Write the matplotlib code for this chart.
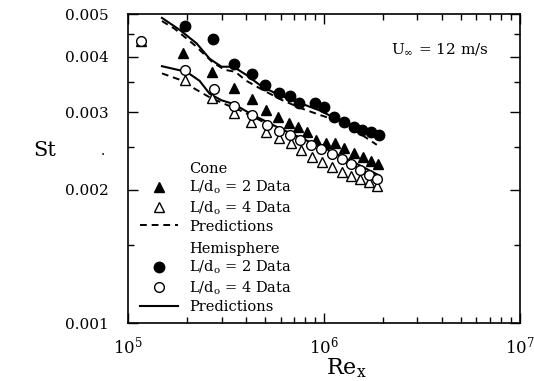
import matplotlib
matplotlib.use('Agg')
import matplotlib.pyplot as plt
from matplotlib.lines import Line2D
import numpy as np

plt.rcParams['font.family'] = 'DejaVu Serif'
plt.rcParams['mathtext.fontset'] = 'dejavuserif'

# Cone, L/do = 2 (filled triangles)
cone2_re = [1.90e5, 2.69e5, 3.49e5, 4.30e5, 5.05e5, 5.86e5, 6.64e5, 7.41e5, 8.23e5,
            9.1e5, 1.02e6, 1.14e6, 1.26e6, 1.42e6, 1.58e6, 1.73e6, 1.88e6]
cone2_st = [0.00409, 0.00369, 0.00340, 0.00321, 0.00304, 0.00292, 0.00284, 0.00278, 0.00271,
            0.00259, 0.00256, 0.00255, 0.00249, 0.00242, 0.00237, 0.00232, 0.00229]

# Cone, L/do = 4 (open triangles)
cone4_re = [1.16e5, 1.96e5, 2.68e5, 3.49e5, 4.25e5, 5.06e5, 5.91e5, 6.78e5, 7.62e5, 8.69e5,
            9.77e5, 1.10e6, 1.23e6, 1.37e6, 1.52e6, 1.69e6, 1.86e6]
cone4_st = [0.00435, 0.00354, 0.00323, 0.00299, 0.00285, 0.00271, 0.00262, 0.00255, 0.00246, 0.00238,
            0.00231, 0.00225, 0.00220, 0.00215, 0.00212, 0.00208, 0.00204]

# Hemisphere, L/do = 2 (filled circles)
hemi2_re = [1.95e5, 2.70e5, 3.49e5, 4.31e5, 5.02e5, 5.88e5, 6.70e5, 7.46e5, 9.0e5,
            1.0e6, 1.12e6, 1.26e6, 1.42e6, 1.56e6, 1.73e6, 1.90e6]
hemi2_st = [0.00470, 0.00439, 0.00385, 0.00366, 0.00345, 0.00332, 0.00326, 0.00315, 0.00314,
            0.00308, 0.00293, 0.00285, 0.00278, 0.00273, 0.00270, 0.00266]

# Hemisphere, L/do = 4 (open circles)
hemi4_re = [1.16e5, 1.95e5, 2.74e5, 3.49e5, 4.30e5, 5.11e5, 5.91e5, 6.70e5, 7.55e5, 8.59e5,
            9.66e5, 1.10e6, 1.23e6, 1.37e6, 1.52e6, 1.69e6, 1.86e6]
hemi4_st = [0.00435, 0.00374, 0.00339, 0.00310, 0.00296, 0.00281, 0.00272, 0.00266, 0.00259, 0.00253,
            0.00248, 0.00241, 0.00235, 0.00229, 0.00222, 0.00216, 0.00212]

# predictions
pc2_re = [1.49e5, 1.73e5, 2.19e5, 2.70e5, 3.11e5, 3.53e5, 4.02e5, 4.85e5, 6.05e5, 7.64e5,
          9.44e5, 1.19e6, 1.51e6, 1.86e6]
pc2_st = [0.00482, 0.00463, 0.00425, 0.00389, 0.00374, 0.00370, 0.00353, 0.00337, 0.00320, 0.00306,
          0.00296, 0.00286, 0.00269, 0.00253]
pc4_re = [1.49e5, 1.84e5, 2.21e5, 2.61e5, 3.11e5, 3.71e5, 4.68e5, 5.91e5, 7.91e5, 1.06e6,
          1.42e6, 1.90e6]
pc4_st = [0.00367, 0.00355, 0.00338, 0.00324, 0.00313, 0.00303, 0.00288, 0.00273, 0.00257, 0.00241,
          0.00227, 0.00211]
ph2_re = [1.49e5, 1.84e5, 2.24e5, 2.61e5, 3.00e5, 3.45e5, 4.02e5, 4.85e5, 5.91e5, 7.46e5,
          9.44e5, 1.19e6, 1.51e6, 1.90e6]
ph2_st = [0.00490, 0.00460, 0.00429, 0.00396, 0.00380, 0.00380, 0.00364, 0.00342, 0.00328, 0.00315,
          0.00303, 0.00288, 0.00277, 0.00269]
ph4_re = [1.49e5, 1.99e5, 2.32e5, 2.61e5, 3.00e5, 3.45e5, 4.31e5, 5.91e5, 8.11e5, 1.06e6,
          1.42e6, 1.90e6]
ph4_st = [0.00381, 0.00370, 0.00353, 0.00330, 0.00319, 0.00313, 0.00296, 0.00276, 0.00259, 0.00246,
          0.00231, 0.00216]

yticks = [0.001, 0.002, 0.003, 0.004, 0.005]
ytick_labels = ['0.001', '0.002', '0.003', '0.004', '0.005']
xticks = [1e5, 1e6, 1e7]
xtick_labels = ['$10^5$', '$10^6$', '$10^7$']

fig = plt.figure(figsize=(5.34, 3.81), dpi=100)
ax = fig.add_axes([0.2397, 0.1522, 0.734, 0.811])

dash = (0, (3.5, 2.5))
ax.plot(pc2_re, pc2_st, color='k', lw=1.4, linestyle=dash)
ax.plot(pc4_re, pc4_st, color='k', lw=1.4, linestyle=dash)
ax.plot(ph2_re, ph2_st, color='k', lw=1.5)
ax.plot(ph4_re, ph4_st, color='k', lw=1.5)

ax.plot(cone2_re, cone2_st, '^', color='k', ms=6.5, linestyle='none')
ax.plot(cone4_re, cone4_st, '^', mfc='white', mec='k', mew=1.0, ms=6.5, linestyle='none')
ax.plot(hemi4_re, hemi4_st, 'o', mfc='white', mec='k', mew=1.0, ms=7, linestyle='none')
ax.plot(hemi2_re, hemi2_st, 'o', color='k', ms=7.5, linestyle='none')

ax.set_xscale('log')
ax.set_yscale('log')
ax.set_xlim(1e5, 1e7)
ax.set_ylim(0.001, 0.005)
ax.set_xticks(xticks, xtick_labels)
ax.set_yticks(yticks, ytick_labels)
ax.set_yticks([0.0015, 0.0025, 0.0035, 0.0045], minor=True)
ax.yaxis.set_minor_formatter(matplotlib.ticker.NullFormatter())
ax.tick_params(which='both', direction='in', top=True, right=True, width=1)
ax.tick_params(which='major', length=7)
ax.tick_params(which='minor', length=4)
ax.tick_params(axis='y', which='major', pad=14, labelsize=11)
ax.tick_params(axis='x', which='major', pad=9, labelsize=12)
for s in ax.spines.values():
    s.set_linewidth(1.2)

blank = Line2D([], [], linestyle='none')
cone_handles = [blank,
                Line2D([], [], marker='^', color='k', ms=6.5, linestyle='none'),
                Line2D([], [], marker='^', mfc='white', mec='k', ms=6.5, linestyle='none'),
                Line2D([], [], color='k', lw=1.4, linestyle=dash)]
hemi_handles = [blank,
                Line2D([], [], marker='o', color='k', ms=7.5, linestyle='none'),
                Line2D([], [], marker='o', mfc='white', mec='k', ms=7, linestyle='none'),
                Line2D([], [], color='k', lw=1.5)]
cone_labels = ['Cone', r'L/d$_\mathrm{o}$ = 2 Data', r'L/d$_\mathrm{o}$ = 4 Data', 'Predictions']
hemi_labels = ['Hemisphere', r'L/d$_\mathrm{o}$ = 2 Data', r'L/d$_\mathrm{o}$ = 4 Data', 'Predictions']

leg_kw = dict(loc='upper left', frameon=False, fontsize=10.5, borderpad=0, borderaxespad=0,
              handlelength=2.6, handletextpad=0.75, labelspacing=0.2)
leg1 = ax.legend(cone_handles, cone_labels, bbox_to_anchor=(0.0306, 0.521), **leg_kw)
ax.add_artist(leg1)
ax.legend(hemi_handles, hemi_labels, bbox_to_anchor=(0.0306, 0.262), **leg_kw)

ax.text(0.795, 0.885, r'U$_\infty$ = 12 m/s', transform=ax.transAxes, fontsize=11,
        ha='center', va='center')

fig.text(45 / 534, 1 - 151 / 381, 'St', fontsize=15, ha='center', va='center')
fig.text(103 / 534, 1 - 151 / 381, '.', fontsize=10, ha='center', va='center')
fig.text(346 / 534, 1 - 368 / 381, r'Re$_\mathrm{x}$', fontsize=16, ha='center', va='center')

fig.savefig('out.png', dpi=100)
